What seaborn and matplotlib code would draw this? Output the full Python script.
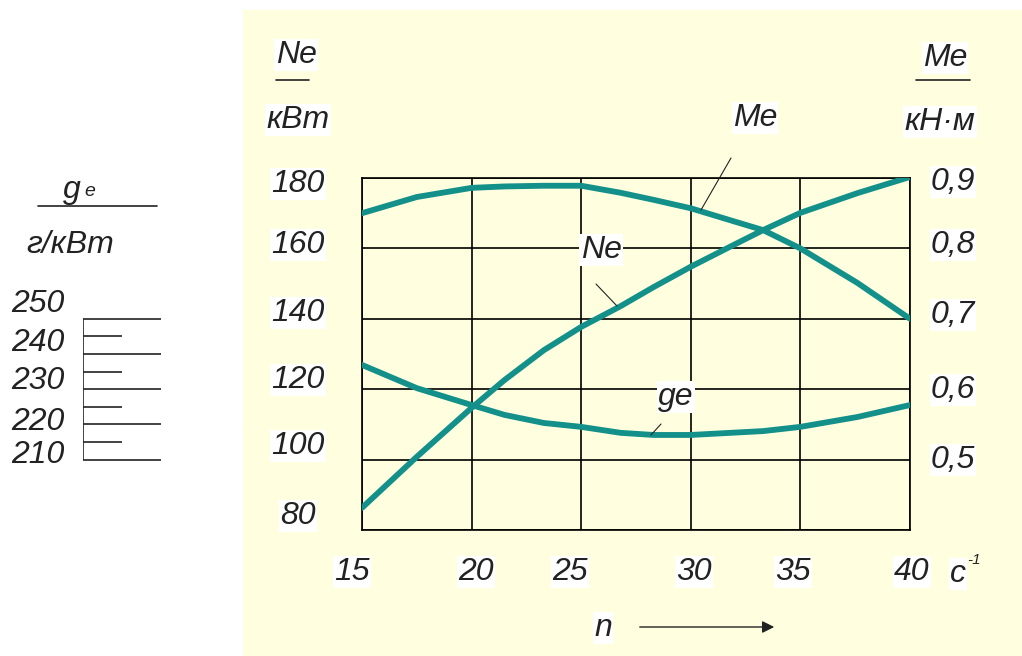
import matplotlib
matplotlib.use("Agg")
import matplotlib.pyplot as plt
import seaborn as sns
import pandas as pd
from matplotlib.patches import Rectangle, FancyArrowPatch
from matplotlib.lines import Line2D

sns.set_theme(style="white")
plt.rcParams['font.family'] = ['Liberation Sans', 'DejaVu Sans']

# ---- data ----
n_vals = [15, 17.5, 20, 21.5, 23.3, 25, 26.8, 28.3, 30, 31.8, 33.3, 35, 37.6, 40]
Ne_vals = [86.3, 100.8, 114.7, 122.6, 131.1, 137.7, 143.6, 149.0, 154.8, 160.5, 165.2, 170.1, 175.7, 180.3]
Me_vals = [0.850, 0.873, 0.886, 0.888, 0.889, 0.889, 0.879, 0.869, 0.857, 0.840, 0.826, 0.800, 0.751, 0.700]
ge_vals = [236.9, 230.3, 225.5, 222.7, 220.4, 219.3, 217.6, 217.0, 217.0, 217.6, 218.1, 219.3, 222.1, 225.5]

x_ticks = [15, 20, 25, 30, 35, 40]
Ne_ticks = [80, 100, 120, 140, 160, 180]
Me_ticks = [0.5, 0.6, 0.7, 0.8, 0.9]
Me_tick_labels = ["0,5", "0,6", "0,7", "0,8", "0,9"]
ge_ticks = [210, 220, 230, 240, 250]
ge_minor = [215, 225, 235, 245]

df = pd.DataFrame({"n": n_vals, "Ne": Ne_vals, "Me": Me_vals, "ge": ge_vals})

LINE = "#13908A"
BG = "#FFFFE0"
TXT = "#222222"
W, H = 1022, 656

fig = plt.figure(figsize=(W / 100, H / 100), dpi=100)
fig.patch.set_facecolor("white")
fig.patches.append(Rectangle((243 / W, 0), (W - 243) / W, (H - 10) / H,
                             transform=fig.transFigure, facecolor=BG,
                             edgecolor="none", zorder=-10))

def fx(px):
    return px / W

def fy(py):
    return 1 - py / H

x0, x1, y0, y1 = 362, 910, 178, 530
ax = fig.add_axes([fx(x0), fy(y1), fx(x1) - fx(x0), fy(y0) - fy(y1)])
ax.set_facecolor("none")
ax.set_xlim(15, 40)
ax.set_ylim(80, 180)
ax.set_xticks(x_ticks)
ax.set_yticks(Ne_ticks)
ax.grid(True, color="black", linewidth=1.2)
for s in ax.spines.values():
    s.set_color("black")
    s.set_linewidth(1.2)
ax.tick_params(length=0, labelleft=False, labelbottom=False)

tfont = dict(style="italic", fontsize=23, color=TXT)
wbox = dict(facecolor="white", edgecolor="none", pad=1.0)

sns.lineplot(data=df, x="n", y="Ne", ax=ax, color=LINE, linewidth=4.2, zorder=3)

axm = ax.twinx()
axm.set_ylim(0.4, 0.9)
axm.axis("off")
sns.lineplot(data=df, x="n", y="Me", ax=axm, color=LINE, linewidth=4.2, zorder=3)

axg = ax.twinx()
axg.set_ylim(190, 290)
axg.axis("off")
sns.lineplot(data=df, x="n", y="ge", ax=axg, color=LINE, linewidth=4.2, zorder=3)
ax.set_xlabel("")
ax.set_ylabel("")

# tick labels
xlab_px = {15: 352, 20: 476, 25: 570, 30: 694, 35: 793, 40: 912}
for v in x_ticks:
    fig.text(fx(xlab_px[v]), fy(572), str(v), ha="center", va="center", bbox=wbox, **tfont)
fig.text(fx(958), fy(574), "c", ha="center", va="center", bbox=wbox, **tfont)
fig.text(fx(974), fy(560), "-1", ha="center", va="center", style="italic", fontsize=11, color=TXT)

nelab_py = {180: 184, 160: 245, 140: 313, 120: 380, 100: 446, 80: 516}
for v in Ne_ticks:
    fig.text(fx(298), fy(nelab_py[v]), str(v), ha="center", va="center", bbox=wbox, **tfont)
melab_py = [460, 390, 315, 245, 182]
for lab, py in zip(Me_tick_labels, melab_py):
    fig.text(fx(953), fy(py), lab, ha="center", va="center", bbox=wbox, **tfont)

# axis headers
fig.text(fx(296), fy(55), "Ne", ha="center", va="center", bbox=wbox, **tfont)
fig.add_artist(Line2D([fx(276), fx(309)], [fy(80), fy(80)], color=TXT, lw=1.2))
fig.text(fx(298), fy(120), "кВт", ha="center", va="center", bbox=wbox, **tfont)
fig.text(fx(945), fy(58), "Me", ha="center", va="center", bbox=wbox, **tfont)
fig.add_artist(Line2D([fx(916), fx(970)], [fy(80), fy(80)], color=TXT, lw=1.2))
fig.text(fx(940), fy(122), "кН·м", ha="center", va="center", bbox=wbox, **tfont)

# curve labels with leader lines
fig.text(fx(755), fy(118), "Me", ha="center", va="center", bbox=wbox, **tfont)
fig.add_artist(Line2D([fx(731), fx(701)], [fy(158), fy(210)], color=TXT, lw=0.8))
fig.text(fx(601), fy(250), "Ne", ha="center", va="center", bbox=wbox, **tfont)
fig.add_artist(Line2D([fx(596), fx(617)], [fy(284), fy(306)], color=TXT, lw=0.8))
fig.text(fx(676), fy(397), "ge", ha="center", va="center", bbox=wbox, **tfont)
fig.add_artist(Line2D([fx(661), fx(651)], [fy(424), fy(435)], color=TXT, lw=0.8))

# n arrow
fig.text(fx(603), fy(628), "n", ha="center", va="center", bbox=wbox, **tfont)
fig.add_artist(FancyArrowPatch((fx(637), fy(627)), (fx(777), fy(627)),
                               transform=fig.transFigure, arrowstyle="-|>",
                               mutation_scale=18, color=TXT, lw=1.0))

# ge scale on the left
axs = fig.add_axes([fx(83), fy(y1), fx(161) - fx(83), fy(y0) - fy(y1)])
axs.set_xlim(0, 1)
axs.set_ylim(190, 290)
axs.axis("off")
axs.vlines(0, 210, 250, color=TXT, lw=1.2)
axs.hlines(ge_ticks, 0, 1, color=TXT, lw=1.2)
axs.hlines(ge_minor, 0, 0.5, color=TXT, lw=1.2)
gelab_py = {250: 304, 240: 343, 230: 381, 220: 422, 210: 455}
for v in ge_ticks:
    fig.text(fx(38), fy(gelab_py[v]), str(v), ha="center", va="center", **tfont)
fig.text(fx(72), fy(190), "g", ha="center", va="center", **tfont)
fig.text(fx(90), fy(192), "e", ha="center", va="center", style="italic", fontsize=14, color=TXT)
fig.add_artist(Line2D([fx(38), fx(157)], [fy(206), fy(206)], color=TXT, lw=1.2))
fig.text(fx(70), fy(245), "г/кВт", ha="center", va="center", **tfont)

fig.savefig("out.png", dpi=100)
